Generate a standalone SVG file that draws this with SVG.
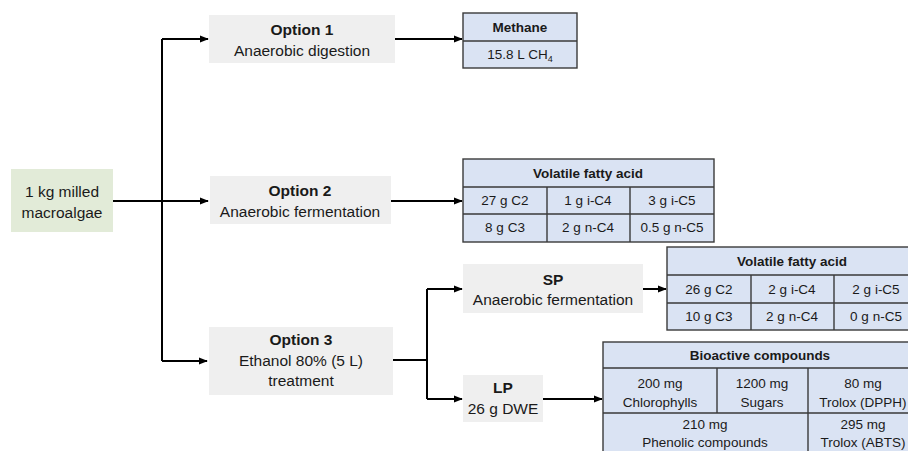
<svg xmlns="http://www.w3.org/2000/svg" width="908" height="451" viewBox="0 0 908 451">
<defs>
<marker id="ah" viewBox="0 0 10 10" refX="9" refY="5" markerWidth="4.5" markerHeight="4.5" orient="auto" markerUnits="strokeWidth">
<path d="M0,1 L10,5 L0,9 z" fill="#000"/>
</marker>
<style>
text{font-family:"Liberation Sans",Arial,sans-serif;fill:#1a1a1a;text-anchor:middle}
.t{font-size:15.5px}
.b{font-weight:bold}
.s{font-size:13.5px}
.box{fill:#efefef}
.src{fill:#e2ebd8}
.tb{fill:#dae3f3;stroke:#3a3a3a;stroke-width:1.4}
.ln{fill:none;stroke:#3a3a3a;stroke-width:1.4}
.c{fill:none;stroke:#000;stroke-width:2}
</style>
</defs>
<rect width="908" height="451" fill="#fff"/>
<g id="connectors">
<path class="c" d="M113,201 H162"/>
<path class="c" d="M162,39 V361"/>
<path class="c" d="M162,39 H208" marker-end="url(#ah)"/>
<path class="c" d="M162,201 H208" marker-end="url(#ah)"/>
<path class="c" d="M162,361 H207" marker-end="url(#ah)"/>
<path class="c" d="M395,39 H462" marker-end="url(#ah)"/>
<path class="c" d="M391,201 H462" marker-end="url(#ah)"/>
<path class="c" d="M393,360 H427"/>
<path class="c" d="M427,289 V399"/>
<path class="c" d="M427,289 H462" marker-end="url(#ah)"/>
<path class="c" d="M427,399 H462" marker-end="url(#ah)"/>
<path class="c" d="M643,289 H666" marker-end="url(#ah)"/>
<path class="c" d="M543,399 H602" marker-end="url(#ah)"/>
</g>
<g id="source">
<rect class="src" x="11" y="169" width="102" height="63"/>
<text class="t" x="62" y="197">1 kg milled</text>
<text class="t" x="62" y="218">macroalgae</text>
</g>
<g id="option1">
<rect class="box" x="209" y="15" width="186" height="48"/>
<text class="t b" x="302" y="35">Option 1</text>
<text class="t" x="302" y="56">Anaerobic digestion</text>
</g>
<g id="option2">
<rect class="box" x="210" y="176" width="181" height="48"/>
<text class="t b" x="300" y="196">Option 2</text>
<text class="t" x="300" y="217">Anaerobic fermentation</text>
</g>
<g id="option3">
<rect class="box" x="209" y="327" width="184" height="68"/>
<text class="t b" x="301" y="345">Option 3</text>
<text class="t" x="301" y="366">Ethanol 80% (5 L)</text>
<text class="t" x="301" y="386">treatment</text>
</g>
<g id="sp">
<rect class="box" x="463" y="264" width="180" height="49"/>
<text class="t b" x="553" y="285">SP</text>
<text class="t" x="553" y="305">Anaerobic fermentation</text>
</g>
<g id="lp">
<rect class="box" x="463" y="375" width="80" height="47"/>
<text class="t b" x="503" y="393">LP</text>
<text class="t" x="503" y="414">26 g DWE</text>
</g>
<g id="methane">
<rect class="tb" x="463" y="13" width="114" height="55"/>
<path class="ln" d="M463,41 H577"/>
<text class="s b" x="520" y="32">Methane</text>
<text class="s" x="520" y="59">15.8 L CH<tspan font-size="9" dy="3">4</tspan></text>
</g>
<g id="vfa1">
<rect class="tb" x="463" y="159" width="251" height="83"/>
<path class="ln" d="M463,187 H714 M463,214 H714 M547,187 V242 M630,187 V242"/>
<text class="s b" x="588" y="178">Volatile fatty acid</text>
<text class="s" x="505" y="205">27 g C2</text>
<text class="s" x="588" y="205">1 g i-C4</text>
<text class="s" x="672" y="205">3 g i-C5</text>
<text class="s" x="505" y="232">8 g C3</text>
<text class="s" x="588" y="232">2 g n-C4</text>
<text class="s" x="672" y="232">0.5 g n-C5</text>
</g>
<g id="vfa2">
<rect class="tb" x="667" y="247" width="251" height="83"/>
<path class="ln" d="M667,275 H918 M667,303 H918 M751,275 V330 M834,275 V330"/>
<text class="s b" x="792" y="266">Volatile fatty acid</text>
<text class="s" x="709" y="294">26 g C2</text>
<text class="s" x="792" y="294">2 g i-C4</text>
<text class="s" x="876" y="294">2 g i-C5</text>
<text class="s" x="709" y="321">10 g C3</text>
<text class="s" x="792" y="321">2 g n-C4</text>
<text class="s" x="876" y="321">0 g n-C5</text>
</g>
<g id="bioactive">
<rect class="tb" x="603" y="342" width="315" height="130"/>
<path class="ln" d="M603,368 H918 M603,413 H918 M717,368 V413 M808,368 V472"/>
<text class="s b" x="760" y="360">Bioactive compounds</text>
<text class="s" x="660" y="388">200 mg</text>
<text class="s" x="660" y="407">Chlorophylls</text>
<text class="s" x="762" y="388">1200 mg</text>
<text class="s" x="762" y="407">Sugars</text>
<text class="s" x="863" y="388">80 mg</text>
<text class="s" x="863" y="407">Trolox (DPPH)</text>
<text class="s" x="705" y="429">210 mg</text>
<text class="s" x="705" y="447">Phenolic compounds</text>
<text class="s" x="863" y="429">295 mg</text>
<text class="s" x="863" y="447">Trolox (ABTS)</text>
</g>
</svg>
